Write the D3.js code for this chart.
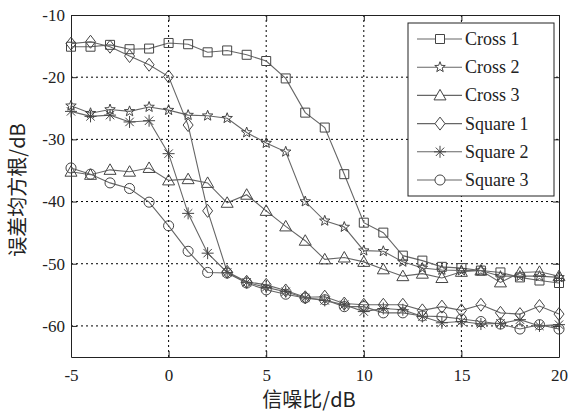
<!DOCTYPE html>
<html lang="zh">
<head>
<meta charset="UTF-8">
<title>误差均方根 vs 信噪比</title>
<script src="https://d3js.org/d3.v7.min.js"></script>
<style>
  body { margin: 0; background: #fff; }
  .tick text { font-family: "Liberation Serif", "Times New Roman", Tinos, "DejaVu Serif", serif; font-size: 17px; fill: #222; }
  .grid line { stroke: #000; stroke-dasharray: 2,3; stroke-width: 1; }
  .legend text { font-family: "Liberation Serif", "Times New Roman", Tinos, "DejaVu Serif", serif; font-size: 18px; fill: #222; }
  .label { font-family: "Noto Sans CJK SC", sans-serif; font-size: 20px; fill: #222; }
</style>
</head>
<body>
<svg id="chart"></svg>
<script>
const snr = d3.range(-5, 21); // -5 .. 20 dB
const xTicks = [-5, 0, 5, 10, 15, 20];
const yTicks = [-10, -20, -30, -40, -50, -60];

const cross1 = [-15.1, -15.1, -14.8, -15.5, -15.4, -14.5, -14.7, -16.0, -15.7, -16.4, -17.4, -20.2, -25.7,
  -28.1, -35.6, -43.4, -45.0, -48.7, -49.5, -50.5, -50.7, -51.1, -51.4, -52.2, -52.7, -53.1];
const cross2 = [-24.6, -25.8, -25.2, -25.5, -24.8, -25.3, -26.1, -26.2, -26.6, -28.9, -30.6, -32.0, -40.0,
  -43.1, -44.1, -47.9, -48.0, -49.7, -50.7, -51.0, -51.1, -51.1, -52.0, -52.0, -52.0, -52.2];
const cross3 = [-35.2, -35.7, -34.9, -35.2, -34.6, -36.6, -36.4, -37.0, -40.2, -38.9, -41.5, -44.0, -46.3,
  -49.3, -49.0, -49.7, -50.9, -52.0, -51.6, -52.3, -51.3, -51.1, -53.0, -51.4, -51.3, -52.0];
const square1 = [-14.6, -14.3, -15.1, -16.6, -18.0, -19.9, -27.7, -41.5, -51.3, -52.9, -53.4, -54.3, -55.4,
  -55.3, -56.4, -56.6, -56.6, -56.6, -57.5, -56.9, -57.5, -56.6, -57.9, -58.1, -56.8, -58.1];
const square2 = [-25.5, -26.3, -26.1, -27.2, -27.0, -32.3, -41.9, -48.3, -51.4, -53.0, -53.8, -54.5, -55.5,
  -55.9, -56.6, -57.7, -57.2, -57.4, -58.5, -59.5, -59.3, -59.7, -59.6, -59.0, -60.0, -59.8];
const square3 = [-34.6, -35.6, -37.0, -37.9, -40.1, -43.9, -48.0, -51.4, -51.5, -53.1, -54.2, -54.9, -55.5,
  -55.8, -56.9, -56.9, -57.9, -57.9, -58.4, -58.5, -58.9, -59.3, -59.7, -60.5, -59.8, -60.5];

const seriesNames = ["Cross 1", "Cross 2", "Cross 3", "Square 1", "Square 2", "Square 3"];
const seriesValues = [cross1, cross2, cross3, square1, square2, square3];
const markers = ["square", "star", "triangle", "diamond", "asterisk", "circle"];

const W = 568, H = 415;
const margin = { top: 15, right: 9, bottom: 58, left: 71 };
const width = W - margin.left - margin.right;
const height = H - margin.top - margin.bottom;

const svg = d3.select("#chart").attr("width", W).attr("height", H);
const g = svg.append("g").attr("transform", `translate(${margin.left},${margin.top})`);

const x = d3.scaleLinear().domain([-5, 20]).range([0, width]);
const y = d3.scaleLinear().domain([-65, -10]).range([height, 0]);

// grid
g.append("g").attr("class", "grid")
  .selectAll("line.v").data(xTicks.slice(1, -1)).enter().append("line")
  .attr("x1", d => x(d)).attr("x2", d => x(d)).attr("y1", 0).attr("y2", height);
g.select(".grid")
  .selectAll("line.h").data(yTicks.slice(1)).enter().append("line")
  .attr("x1", 0).attr("x2", width).attr("y1", d => y(d)).attr("y2", d => y(d));

// axes (ticks inward, box)
const axisStyle = sel => {
  sel.attr("font-family", null).attr("font-size", null);
  sel.select(".domain").attr("stroke", "#222");
  sel.selectAll(".tick line").attr("stroke", "#222");
};
g.append("g").attr("transform", `translate(0,${height})`)
  .call(d3.axisBottom(x).tickValues(xTicks).tickSize(-6).tickPadding(12).tickSizeOuter(0))
  .call(axisStyle);
g.append("g")
  .call(d3.axisLeft(y).tickValues(yTicks).tickSize(-6).tickPadding(6).tickSizeOuter(0))
  .call(axisStyle);
g.append("g")
  .call(d3.axisTop(x).tickValues(xTicks).tickSize(-6).tickFormat("").tickSizeOuter(0))
  .call(axisStyle);
g.append("g").attr("transform", `translate(${width},0)`)
  .call(d3.axisRight(y).tickValues(yTicks).tickSize(-6).tickFormat("").tickSizeOuter(0))
  .call(axisStyle);
g.selectAll(".tick text").text(function () { return this.textContent.replace("−", "-"); });

// marker paths
function markerPath(type) {
  switch (type) {
    case "square": return "M-4.5,-4.5H4.5V4.5H-4.5Z";
    case "triangle": return "M0,-6L6,4.5H-6Z";
    case "diamond": return "M0,-6.5L5,0L0,6.5L-5,0Z";
    case "circle": return d3.symbol(d3.symbolCircle, 80)();
    case "star": {
      const pts = [];
      for (let i = 0; i < 10; i++) {
        const r = i % 2 ? 2.3 : 5.5, a = -Math.PI / 2 + i * Math.PI / 5;
        pts.push([r * Math.cos(a), r * Math.sin(a)]);
      }
      return "M" + pts.map(p => p.join(",")).join("L") + "Z";
    }
    case "asterisk": return "M0,-6V6M-6,0H6M-4.2,-4.2L4.2,4.2M-4.2,4.2L4.2,-4.2";
  }
}

const line = d3.line().x((d, i) => x(snr[i])).y(d => y(d));
const lineColor = "#666", markColor = "#444";

seriesValues.forEach((vals, k) => {
  const s = g.append("g");
  s.append("path").datum(vals).attr("d", line)
    .attr("fill", "none").attr("stroke", lineColor).attr("stroke-width", 1.1);
  s.selectAll("path.m").data(vals).enter().append("path")
    .attr("class", "m")
    .attr("transform", (d, i) => `translate(${x(snr[i])},${y(d)})`)
    .attr("d", markerPath(markers[k]))
    .attr("fill", "none").attr("stroke", markColor).attr("stroke-width", 1);
});

// legend
const lg = svg.append("g").attr("class", "legend").attr("transform", "translate(408,23)");
lg.append("rect").attr("width", 146).attr("height", 173)
  .attr("fill", "#fff").attr("stroke", "#222");
seriesNames.forEach((name, k) => {
  const yy = 16 + k * 28.2;
  lg.append("line").attr("x1", 9).attr("x2", 54).attr("y1", yy).attr("y2", yy)
    .attr("stroke", lineColor).attr("stroke-width", 1.1);
  lg.append("path").attr("transform", `translate(32,${yy})`).attr("d", markerPath(markers[k]))
    .attr("fill", "#fff").attr("stroke", markColor);
  lg.append("text").attr("x", 57).attr("y", yy + 6).text(name);
});

// axis titles
svg.append("text").attr("class", "label")
  .attr("x", margin.left + width / 2 - 6).attr("y", 407)
  .attr("text-anchor", "middle").text("信噪比/dB");
svg.append("text").attr("class", "label")
  .attr("transform", `translate(25,${margin.top + height / 2 + 4}) rotate(-90)`)
  .attr("text-anchor", "middle").text("误差均方根/dB");
</script>
</body>
</html>
